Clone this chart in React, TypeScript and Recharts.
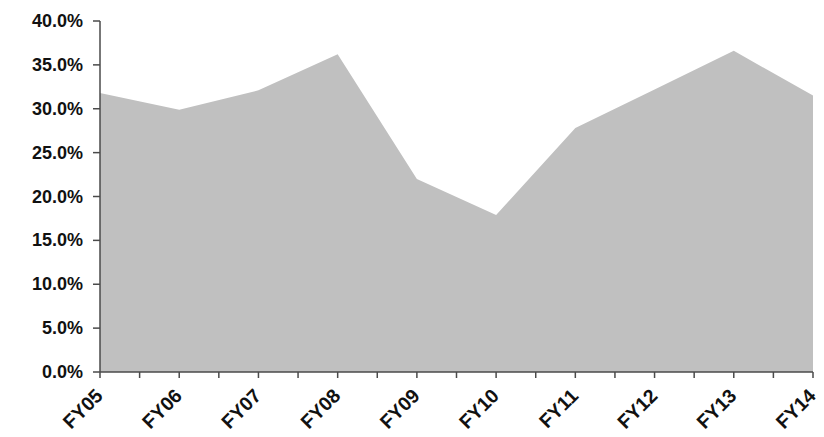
import { AreaChart, Area, XAxis, YAxis } from 'recharts';

const years = ['FY05', 'FY06', 'FY07', 'FY08', 'FY09', 'FY10', 'FY11', 'FY12', 'FY13', 'FY14'];
const margins = [31.8, 29.9, 32.1, 36.2, 22.0, 17.9, 27.8, 32.2, 36.6, 31.5];
const yTicks = [0, 5, 10, 15, 20, 25, 30, 35, 40];
// ticks on each year plus one halfway between neighbours
const xTicks = years.flatMap((_, i) => (i < years.length - 1 ? [i, i + 0.5] : [i]));

const data = years.map((year, i) => ({ idx: i, year, margin: margins[i] }));

const font = "'Liberation Sans', Arial, sans-serif";
const axisColor = '#4a4a4a';

function YearTick({ x, y, payload }: any) {
  const v = payload.value;
  if (!Number.isInteger(v)) return null;
  return (
    <text
      transform={`translate(${x + 4},${y + 17}) rotate(-45)`}
      textAnchor="end"
      style={{ fontFamily: font, fontWeight: 700, fontSize: '19.5px' }}
      fill="#111"
    >
      {years[v]}
    </text>
  );
}

function PercentTick({ x, y, payload }: any) {
  return (
    <text
      x={x}
      y={y}
      dy={6}
      textAnchor="end"
      style={{ fontFamily: font, fontWeight: 700, fontSize: '18px' }}
      fill="#111"
    >
      {`${payload.value.toFixed(1)}%`}
    </text>
  );
}

export default function App() {
  return (
    <div style={{ position: 'absolute', left: 0, top: 0, background: '#fff' }}>
      <AreaChart width={824} height={437} data={data} margin={{ top: 21, right: 11, bottom: 5, left: 0 }}>
        <XAxis
          dataKey="idx"
          type="number"
          domain={[0, years.length - 1]}
          ticks={xTicks}
          interval={0}
          height={60}
          tick={<YearTick />}
          tickSize={6}
          stroke={axisColor}
          strokeWidth={1.5}
        />
        <YAxis
          type="number"
          domain={[0, 40]}
          ticks={yTicks}
          interval={0}
          width={100}
          tickSize={7}
          tickMargin={10}
          tick={<PercentTick />}
          stroke={axisColor}
          strokeWidth={1.5}
        />
        <Area
          type="linear"
          dataKey="margin"
          stroke="none"
          fill="#c0c0c0"
          fillOpacity={1}
          isAnimationActive={false}
        />
      </AreaChart>
    </div>
  );
}
